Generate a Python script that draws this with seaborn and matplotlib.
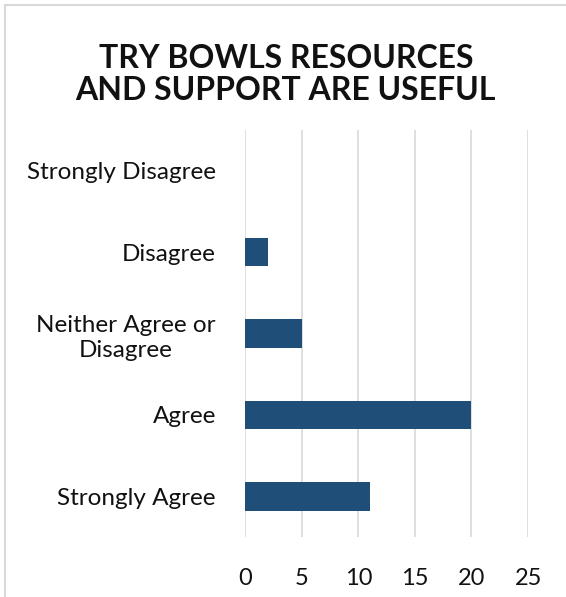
import numpy as np
import pandas as pd
import matplotlib
matplotlib.use('Agg')
import matplotlib.pyplot as plt
import seaborn as sns
from matplotlib.patches import Rectangle

# survey answers, top to bottom as shown
responses = ['Strongly Disagree', 'Disagree', 'Neither Agree or\nDisagree', 'Agree', 'Strongly Agree']
counts = [0, 2, 5, 20, 11]
x_ticks = [0, 5, 10, 15, 20, 25]
title = 'TRY BOWLS RESOURCES\nAND SUPPORT ARE USEFUL'

sns.set_theme(style='white')
plt.rcParams['font.family'] = ['Lato', 'DejaVu Sans']

df = pd.DataFrame({'response': responses, 'count': counts})

fig = plt.figure(figsize=(5.66, 5.97), dpi=100)
ax = fig.add_axes([0.433, 0.1005, 0.5, 0.6817])

sns.barplot(data=df, x='count', y='response', orient='h', color='#1F4E79',
            saturation=1, width=0.35, linewidth=0, ax=ax, zorder=3)

ax.set_xlim(0, 25)
ax.set_xticks(x_ticks)
ax.set_xticklabels([str(t) for t in x_ticks], fontsize=17, color='#111111')
ax.tick_params(axis='x', length=0, pad=22)
ax.tick_params(axis='y', length=0, pad=21, labelsize=17.5, labelcolor='#111111')
ax.set_xlabel('')
ax.set_ylabel('')
for lbl in ax.get_yticklabels():
    lbl.set_horizontalalignment('right')
    lbl.set_multialignment('center')
    lbl.set_linespacing(1.25)
ax.grid(axis='x', color='#dcdcdc', linewidth=1.3, zorder=0)
ax.grid(axis='y', visible=False)
for s in ax.spines.values():
    s.set_visible(False)

fig.text(0.505, 0.875, title, ha='center', va='center', fontsize=23,
         fontweight='bold', color='#111111', linespacing=1.1)

# light chart frame
fig.patches.append(Rectangle((5 / 566, -0.1), 1.2, 1 - 5 / 597 + 0.1, transform=fig.transFigure,
                             fill=False, edgecolor='#d9d9d9', linewidth=1.5))

fig.savefig('out.png', dpi=100)
plt.close()
